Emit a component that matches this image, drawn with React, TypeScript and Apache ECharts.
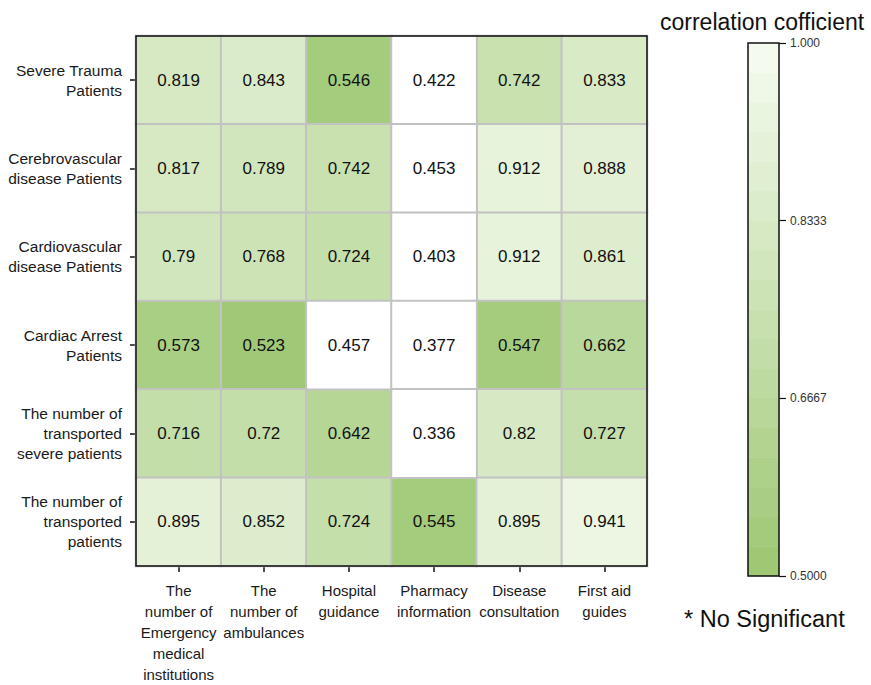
import React, { useEffect, useRef } from "react";
import * as echarts from "echarts";

// Media-use columns (x axis)
const mediaTypes = [
  "The\nnumber of\nEmergency\nmedical\ninstitutions",
  "The\nnumber of\nambulances",
  "Hospital\nguidance",
  "Pharmacy\ninformation",
  "Disease\nconsultation",
  "First aid\nguides",
];

// Patient groups (y axis), listed top to bottom
const patientGroups = [
  "Severe Trauma\nPatients",
  "Cerebrovascular\ndisease Patients",
  "Cardiovascular\ndisease Patients",
  "Cardiac Arrest\nPatients",
  "The number of\ntransported\nsevere patients",
  "The number of\ntransported\npatients",
];

// Correlation coefficients, one row per patient group
const severeTrauma = [0.819, 0.843, 0.546, 0.422, 0.742, 0.833];
const cerebrovascular = [0.817, 0.789, 0.742, 0.453, 0.912, 0.888];
const cardiovascular = [0.79, 0.768, 0.724, 0.403, 0.912, 0.861];
const cardiacArrest = [0.573, 0.523, 0.457, 0.377, 0.547, 0.662];
const transportedSevere = [0.716, 0.72, 0.642, 0.336, 0.82, 0.727];
const transportedAll = [0.895, 0.852, 0.724, 0.545, 0.895, 0.941];

const rows = [
  severeTrauma,
  cerebrovascular,
  cardiovascular,
  cardiacArrest,
  transportedSevere,
  transportedAll,
];

// Colour scale range and its tick labels; below scaleMin = not significant
const scaleMin = 0.5;
const scaleMax = 1.0;
const scaleTickLabels = ["0.5000", "0.6667", "0.8333", "1.000"];
const bandCount = 18;

const FONT = "'Liberation Sans', Arial, sans-serif";

export default function App() {
  const ref = useRef<HTMLDivElement>(null);

  useEffect(() => {
    if (!ref.current) return;
    const chart = echarts.init(ref.current, null, { renderer: "svg" });

    const significant: number[][] = [];
    const notSignificant: number[][] = [];
    rows.forEach((vals, r) =>
      vals.forEach((v, c) =>
        (v >= scaleMin ? significant : notSignificant).push([c, r, v])
      )
    );

    // stepped colour bar: one band per legend step
    const bandStep = (scaleMax - scaleMin) / bandCount;
    const bandCats = Array.from({ length: bandCount }, (_, i) => String(i));
    const bands = bandCats.map((_, i) => [0, i, scaleMin + (i + 0.5) * bandStep]);

    const cellLabel = {
      show: true,
      fontSize: 17,
      color: "#111",
      fontFamily: FONT,
      formatter: (p: any) => String(p.value[2]),
    };

    chart.setOption({
      animation: false,
      backgroundColor: "#ffffff",
      textStyle: { fontFamily: FONT },
      title: {
        text: "correlation cofficient",
        left: 655,
        top: 5,
        textStyle: { fontSize: 23, fontWeight: "normal", color: "#111", fontFamily: FONT },
      },
      grid: [
        {
          left: 136,
          top: 36,
          width: 511,
          height: 535,
          show: true,
          z: 10,
          backgroundColor: "transparent",
          borderColor: "#111",
          borderWidth: 1.5,
        },
        {
          left: 748,
          top: 43,
          width: 31,
          height: 533,
          show: true,
          z: 10,
          backgroundColor: "transparent",
          borderColor: "#111",
          borderWidth: 1.5,
        },
      ],
      xAxis: [
        {
          type: "category",
          gridIndex: 0,
          data: mediaTypes,
          position: "bottom",
          axisLine: { show: false },
          axisTick: { show: true, alignWithLabel: true, length: 6, lineStyle: { color: "#111", width: 1.5 } },
          axisLabel: {
            interval: 0,
            margin: 14,
            fontSize: 15,
            lineHeight: 21,
            color: "#1a1a1a",
            fontFamily: FONT,
            align: "center",
          },
          splitLine: { show: false },
        },
        {
          type: "category",
          gridIndex: 1,
          data: ["bar"],
          show: false,
        },
      ],
      yAxis: [
        {
          type: "category",
          gridIndex: 0,
          data: patientGroups,
          inverse: true,
          axisLine: { show: false },
          axisTick: { show: true, alignWithLabel: true, length: 6, lineStyle: { color: "#111", width: 1.5 } },
          axisLabel: {
            interval: 0,
            margin: 14,
            fontSize: 15.5,
            lineHeight: 20,
            color: "#1a1a1a",
            fontFamily: FONT,
            align: "right",
          },
          splitLine: { show: false },
        },
        {
          type: "category",
          gridIndex: 1,
          data: bandCats,
          show: false,
        },
        {
          type: "value",
          gridIndex: 1,
          position: "right",
          min: scaleMin,
          max: scaleMax,
          interval: (scaleMax - scaleMin) / 3,
          axisLine: { show: false },
          axisTick: { show: true, length: 7, lineStyle: { color: "#111", width: 1.2 } },
          splitLine: { show: false },
          axisLabel: {
            margin: 11,
            fontSize: 12,
            color: "#333",
            fontFamily: FONT,
            formatter: (v: number) =>
              scaleTickLabels[Math.round(((v - scaleMin) / (scaleMax - scaleMin)) * 3)] ?? "",
          },
        },
      ],
      visualMap: [
        {
          type: "continuous",
          show: false,
          min: scaleMin,
          max: scaleMax,
          dimension: 2,
          seriesIndex: [0, 2],
          inRange: { color: ["#9cc771", "#f7fcf2"] },
        },
        {
          // not-significant cells stay white
          type: "continuous",
          show: false,
          min: 0,
          max: scaleMin,
          dimension: 2,
          seriesIndex: [1],
          inRange: { color: ["#ffffff", "#ffffff"] },
        },
      ],
      series: [
        {
          type: "heatmap",
          xAxisIndex: 0,
          yAxisIndex: 0,
          data: significant,
          itemStyle: { borderColor: "#c2c2c2", borderWidth: 2 },
          label: cellLabel,
          emphasis: { disabled: true },
        },
        {
          type: "heatmap",
          xAxisIndex: 0,
          yAxisIndex: 0,
          data: notSignificant,
          itemStyle: { borderColor: "#c2c2c2", borderWidth: 2 },
          label: cellLabel,
          emphasis: { disabled: true },
        },
        {
          type: "heatmap",
          xAxisIndex: 1,
          yAxisIndex: 1,
          data: bands,
          itemStyle: { borderWidth: 0 },
          label: { show: false },
          emphasis: { disabled: true },
        },
      ],
      graphic: [
        {
          type: "text",
          left: 684,
          top: 607,
          style: {
            text: "* No Significant",
            fontSize: 23.5,
            fill: "#111",
            fontFamily: FONT,
          },
        },
      ],
    });

    return () => chart.dispose();
  }, []);

  return (
    <div
      ref={ref}
      style={{ position: "fixed", left: 0, top: 0, width: 871, height: 685 }}
    />
  );
}
